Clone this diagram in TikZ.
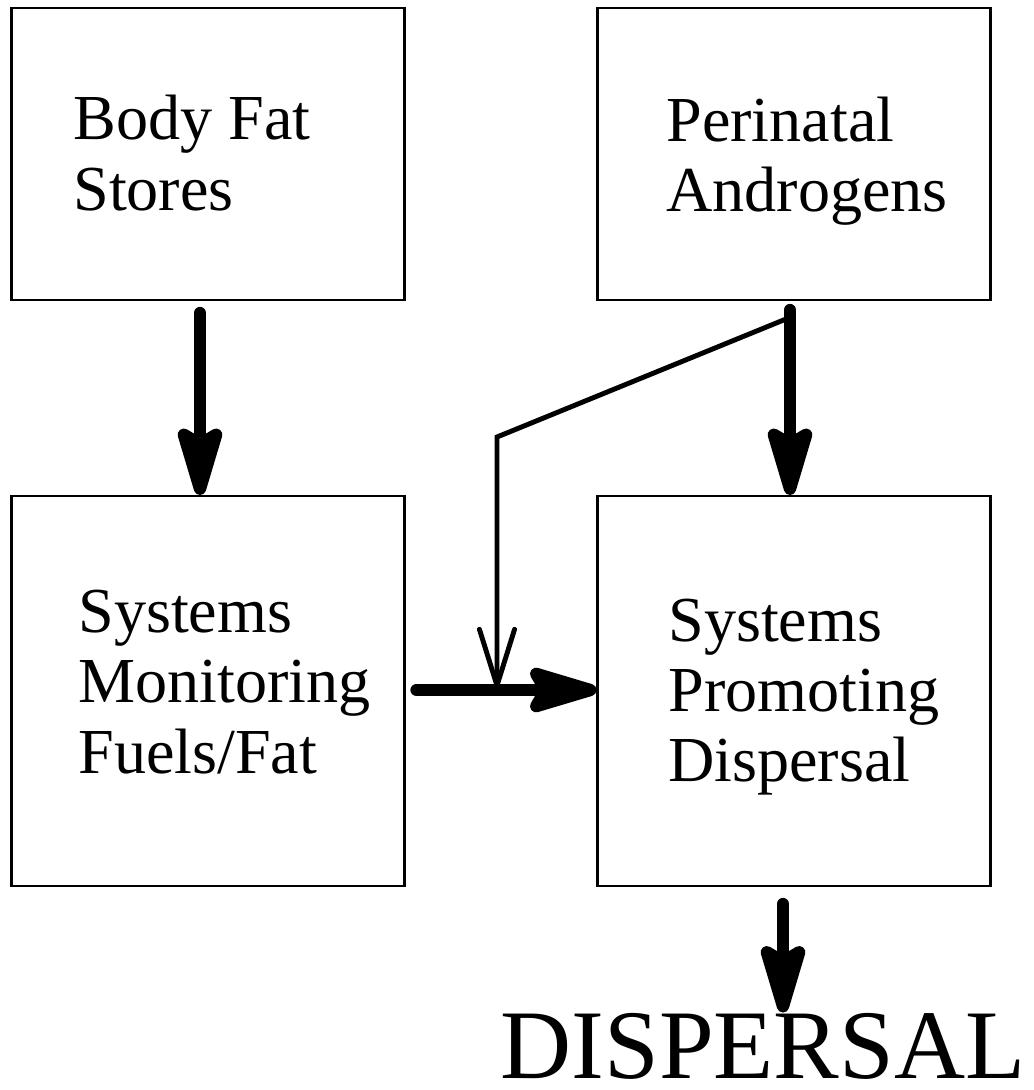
\documentclass[tikz,border=0pt]{standalone}
\usepackage{fontspec}
\setmainfont{Liberation Serif}
\usetikzlibrary{arrows.meta,calc}
\begin{document}
\begin{tikzpicture}[x=0.02cm,y=-0.02cm,
  box/.style={draw,line width=1.2pt,minimum width=7.86cm},
  lbl/.style={anchor=west,align=left,inner sep=0pt,font=\fontsize{36.5}{40}\selectfont},
  fatarrow/.style={line width=7pt,line cap=round,-{Stealth[length=50pt,width=29pt,inset=8pt,round]}},
  thinarrow/.style={line width=2.8pt,-{Straight Barb[length=32pt,width=20pt,round]}}]
\useasboundingbox (0,0) rectangle (1034,1090);
\node[box,minimum height=5.84cm] (fat) at (208,154) {};
\node[box,minimum height=5.84cm] (andro) at (794,154) {};
\node[box,minimum height=7.8cm] (mon) at (208,691) {};
\node[box,minimum height=7.8cm] (prom) at (794,691) {};
\node[lbl] (fattxt) at (73,153) {Body Fat\\Stores};
\node[lbl] (androtxt) at (666,161) {Perinatal\\Androgens};
\node[lbl] (montxt) at (78,682) {Systems\\Monitoring\\Fuels/Fat};
\node[lbl] (promtxt) at (668,697) {Systems\\Promoting\\Dispersal};
\node[anchor=base,inner sep=0pt,font=\fontsize{56}{60}\selectfont] (disp) at (763,1078) {DISPERSAL};

\draw[fatarrow] ($(fat.south)+(-8,12)$) -- ($(mon.north)+(-8,0)$);
\draw[fatarrow] ($(andro.south)+(-4,9)$) -- ($(prom.north)+(-4,0)$);
\draw[fatarrow] ($(mon.east)+(11,-1)$) -- ($(prom.west)+(0,-1)$);
\coordinate (split) at ($(andro.south)+(-8,18)$);
\coordinate (bend) at (497,437);
\draw[thinarrow] (split) -- (bend) -- ($(bend |- prom.west)+(0,-3)$);
\coordinate (out) at ($(prom.south)+(-11,17)$);
\draw[fatarrow] (out) -- (out |- disp.north);
\end{tikzpicture}
\end{document}
